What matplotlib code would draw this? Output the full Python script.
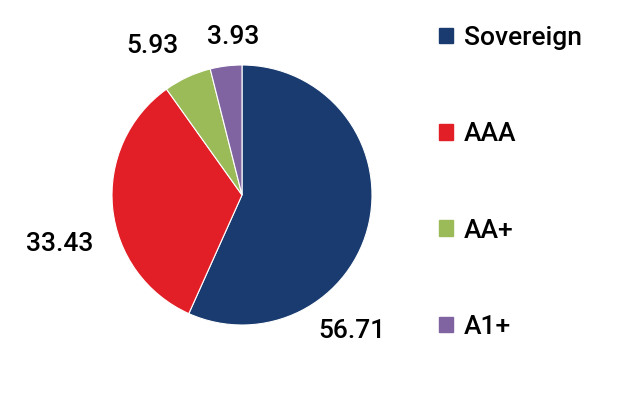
import matplotlib.pyplot as plt
import matplotlib.patches as mpatches
import numpy as np

plt.rcParams['font.family'] = ['Roboto', 'DejaVu Sans']

categories = ['Sovereign', 'AAA', 'AA+', 'A1+']
values = [56.71, 33.43, 5.93, 3.93]
colors = ['#1a3b6f', '#e21f26', '#9bbb59', '#8064a2']
value_labels = ['56.71', '33.43', '5.93', '3.93']

# label placement (angle in degrees, distance in radii) -- hand tuned
label_angles = [-51, 195.1, 120.9, 93.1]
label_dist = [1.346, 1.45, 1.335, 1.221]

fig = plt.figure(figsize=(6.18, 3.95), dpi=100)
ax = fig.add_axes([112/618, 70/395, 260/618, 260/395])
ax.pie(values, colors=colors, startangle=90, counterclock=False, radius=1,
       wedgeprops=dict(linewidth=0.8, edgecolor='white'))
ax.set_xlim(-1, 1)
ax.set_ylim(-1, 1)
ax.set_aspect('equal')

for lab, a, d in zip(value_labels, label_angles, label_dist):
    t = np.deg2rad(a)
    ax.text(d * np.cos(t), d * np.sin(t), lab, ha='center', va='center',
            fontsize=19, fontweight='medium', color='black', clip_on=False)

handles = [mpatches.Patch(color=c, label=n) for c, n in zip(colors, categories)]
fig.legend(handles=handles, loc='upper left', bbox_to_anchor=(439/618, 1 - 26/395),
           frameon=False, prop=dict(size=19, weight='medium'), labelspacing=2.74,
           handlelength=0.53, handleheight=0.53, handletextpad=0.4,
           borderpad=0, borderaxespad=0)

fig.savefig('out.png', dpi=100)
